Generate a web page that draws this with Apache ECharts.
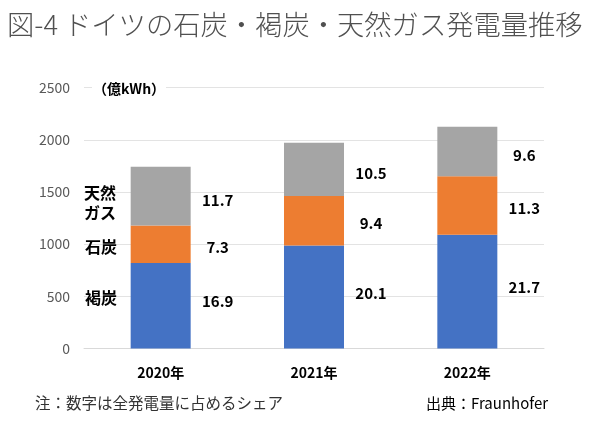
<!DOCTYPE html>
<html>
<head>
<meta charset="utf-8">
<script src="https://cdn.jsdelivr.net/npm/echarts@6/dist/echarts.min.js"></script>
<style>
html,body{margin:0;padding:0;background:#fff;}
#chart{width:600px;height:425px;}
</style>
</head>
<body>
<div id="chart"></div>
<script>
var categories = ['2020年', '2021年', '2022年'];
var lignite = [819, 988, 1090];
var hardCoal = [360, 475, 561];
var gas = [564, 509, 474];
var ligniteShare = ['16.9', '20.1', '21.7'];
var hardCoalShare = ['7.3', '9.4', '11.3'];
var gasShare = ['11.7', '10.5', '9.6'];
var yTicks = [0, 500, 1000, 1500, 2000, 2500];

var FONT = '"Noto Sans CJK JP", "Noto Sans", sans-serif';
var chart = echarts.init(document.getElementById('chart'), null, {renderer: 'canvas'});

function lbl(shares, dy) {
  return {
    show: true,
    position: 'inside',
    offset: [57, dy],
    formatter: function (p) { return shares[p.dataIndex]; },
    color: '#000',
    fontFamily: FONT,
    fontWeight: 'bold',
    fontSize: 15
  };
}

chart.setOption({
  animation: false,
  backgroundColor: '#fff',
  grid: {left: 84, right: 56, top: 87.7, bottom: 76.5},
  xAxis: {
    type: 'category',
    data: categories,
    axisLine: {show: true, lineStyle: {color: '#d9d9d9'}},
    axisTick: {show: false},
    axisLabel: {color: '#000', fontWeight: 'bold', fontSize: 14, fontFamily: FONT, margin: 17}
  },
  yAxis: {
    type: 'value',
    min: yTicks[0],
    max: yTicks[yTicks.length - 1],
    interval: 500,
    axisLine: {show: false},
    axisTick: {show: false},
    splitLine: {lineStyle: {color: '#e3e3e3'}},
    axisLabel: {color: '#595959', fontSize: 14, fontFamily: FONT, margin: 14,
      formatter: function (v) { return String(v); }}
  },
  series: [
    {name: '褐炭', type: 'bar', stack: 'a', barWidth: 60, data: lignite,
     itemStyle: {color: '#4472c4'}, label: lbl(ligniteShare, -4)},
    {name: '石炭', type: 'bar', stack: 'a', barWidth: 60, data: hardCoal,
     itemStyle: {color: '#ed7d31'}, label: lbl(hardCoalShare, 3)},
    {name: '天然ガス', type: 'bar', stack: 'a', barWidth: 60, data: gas,
     itemStyle: {color: '#a5a5a5'}, label: lbl(gasShare, 4)}
  ],
  graphic: [
    {type: 'text', left: 7, top: 11, z: 100,
     style: {text: '図-4 ドイツの石炭・褐炭・天然ガス発電量推移', fill: '#505050', font: '200 27.3px ' + FONT}},
    {type: 'rect', z: 100, shape: {x: 92, y: 79, width: 74, height: 20}, style: {fill: '#fff'}},
    {type: 'text', z: 101, x: 129, y: 89,
     style: {text: '（億kWh）', fill: '#000', font: 'bold 14px ' + FONT, align: 'center', verticalAlign: 'middle'}},
    {type: 'text', z: 100, x: 100, y: 203,
     style: {text: '天然\nガス', fill: '#000', font: 'bold 16px ' + FONT, lineHeight: 20, align: 'center', verticalAlign: 'middle'}},
    {type: 'text', z: 100, x: 101, y: 246.7,
     style: {text: '石炭', fill: '#000', font: 'bold 16px ' + FONT, align: 'center', verticalAlign: 'middle'}},
    {type: 'text', z: 100, x: 101, y: 297.7,
     style: {text: '褐炭', fill: '#000', font: 'bold 16px ' + FONT, align: 'center', verticalAlign: 'middle'}},
    {type: 'text', z: 100, x: 35, y: 403,
     style: {text: '注：数字は全発電量に占めるシェア', fill: '#333', font: '15.5px ' + FONT, verticalAlign: 'middle'}},
    {type: 'text', z: 100, x: 426, y: 403,
     style: {text: '出典：Fraunhofer', fill: '#000', font: '15px ' + FONT, verticalAlign: 'middle'}}
  ]
});
</script>
</body>
</html>
